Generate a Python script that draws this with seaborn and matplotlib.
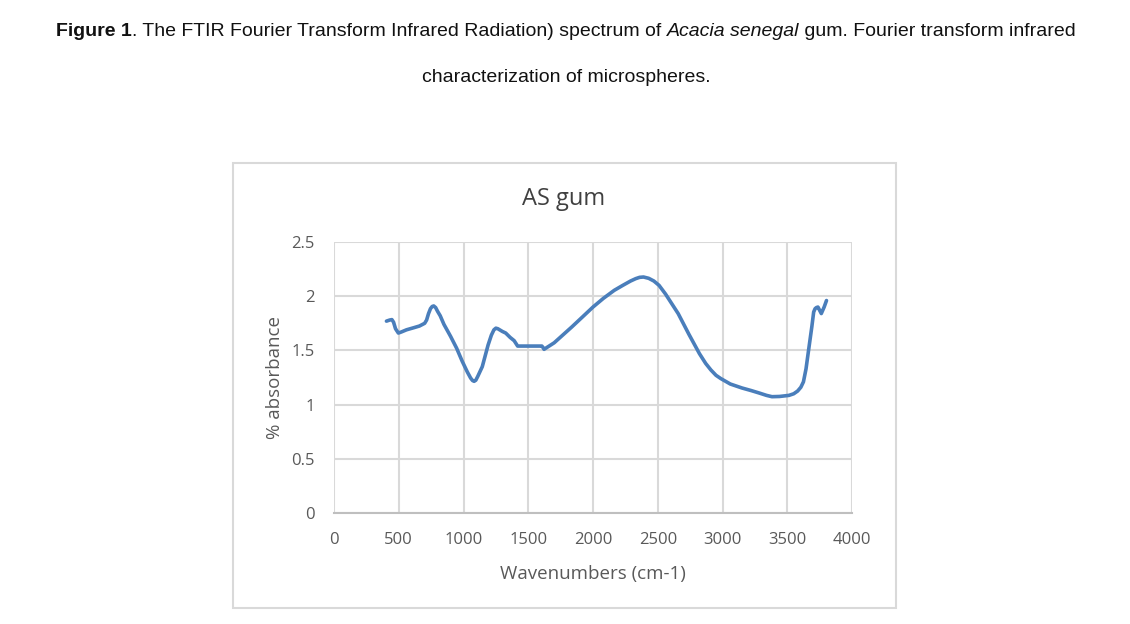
import matplotlib
matplotlib.use("Agg")
import matplotlib.pyplot as plt
import seaborn as sns
import pandas as pd
from matplotlib.patches import Rectangle

# Data
wavenumbers = [405, 430, 447, 460, 475, 497, 520, 560, 618, 660, 700, 715, 730, 745, 758, 770,
               785, 800, 820, 849, 900, 947, 990, 1030, 1055, 1070, 1082, 1095, 1110, 1145, 1190,
               1215, 1235, 1250, 1265, 1300, 1326, 1360, 1391, 1418, 1500, 1605, 1612, 1622, 1700,
               1836, 1920, 2000, 2080, 2164, 2230, 2290, 2330, 2360, 2390, 2430, 2470, 2510, 2560,
               2658, 2740, 2822, 2870, 2910, 2950, 2987, 3060, 3151, 3220, 3283, 3340, 3382, 3440,
               3513, 3550, 3580, 3605, 3625, 3645, 3661, 3690, 3704, 3715, 3725, 3737, 3750, 3763,
               3785, 3803]
absorbance = [1.77, 1.78, 1.784, 1.76, 1.70, 1.66, 1.67, 1.69, 1.71, 1.725, 1.75, 1.78, 1.84, 1.885,
              1.905, 1.91, 1.895, 1.86, 1.82, 1.74, 1.63, 1.52, 1.40, 1.30, 1.245, 1.222, 1.215,
              1.225, 1.26, 1.35, 1.55, 1.64, 1.69, 1.705, 1.70, 1.675, 1.66, 1.62, 1.59, 1.54,
              1.54, 1.54, 1.53, 1.51, 1.57, 1.716, 1.81, 1.90, 1.98, 2.054, 2.10, 2.14, 2.162,
              2.174, 2.177, 2.165, 2.14, 2.10, 2.02, 1.839, 1.65, 1.47, 1.38, 1.32, 1.27, 1.24,
              1.19, 1.153, 1.13, 1.107, 1.085, 1.073, 1.075, 1.085, 1.10, 1.125, 1.16, 1.21, 1.33,
              1.47, 1.72, 1.854, 1.885, 1.895, 1.90, 1.87, 1.84, 1.90, 1.96]

x_ticks = [0, 500, 1000, 1500, 2000, 2500, 3000, 3500, 4000]
y_ticks = [0, 0.5, 1, 1.5, 2, 2.5]
y_tick_labels = ["0", "0.5", "1", "1.5", "2", "2.5"]

sns.set_theme(style="white")
plt.rcParams['font.family'] = ['Open Sans', 'DejaVu Sans']

W, H = 1130, 624
fig = plt.figure(figsize=(W / 100, H / 100), dpi=100)

# chart frame
fig.patches.append(Rectangle((233 / W, 1 - 608 / H), (896 - 233) / W, (608 - 163) / H,
                             transform=fig.transFigure, fill=False, edgecolor="#d9d9d9",
                             linewidth=1.5))

ax = fig.add_axes([334 / W, 1 - 513 / H, (852 - 334) / W, (513 - 242) / H])
df = pd.DataFrame({"Wavenumbers": wavenumbers, "absorbance": absorbance})
sns.lineplot(data=df, x="Wavenumbers", y="absorbance", sort=False, ax=ax,
             color="#4a7ebb", linewidth=2.6, zorder=3)

ax.set_xlim(0, 4000)
ax.set_ylim(0, 2.5)
ax.set_xticks(x_ticks)
ax.set_yticks(y_ticks)
ax.set_yticklabels(y_tick_labels)
ax.grid(True, color="#d9d9d9", linewidth=1.5)
for s in ["top", "right", "left"]:
    ax.spines[s].set_visible(False)
ax.spines["bottom"].set_color("#bfbfbf")
ax.spines["bottom"].set_linewidth(1.5)
ax.tick_params(axis="both", length=0, labelsize=12, labelcolor="#595959")
ax.tick_params(axis="y", pad=14)
ax.tick_params(axis="x", pad=14)
ax.set_xlabel("Wavenumbers (cm-1)", fontsize=13.5, color="#595959", labelpad=12)
ax.set_ylabel("% absorbance", fontsize=13.5, color="#595959", labelpad=5)
fig.text(564 / W, 1 - 199 / H, "AS gum", fontsize=17, color="#404040",
         ha="center", va="center")

# Caption with mixed styles
cap_family = ['Liberation Sans Narrow', 'Liberation Sans', 'DejaVu Sans']
pieces = [("Figure 1", "bold", "normal"),
          (". The FTIR Fourier Transform Infrared Radiation) spectrum of ", "normal", "normal"),
          ("Acacia senegal", "normal", "italic"),
          (" gum. Fourier transform infrared", "normal", "normal")]
fig.canvas.draw()
renderer = fig.canvas.get_renderer()
texts = []
for s, w, st in pieces:
    t = fig.text(0, 1 - 31 / H, s, fontsize=14, fontweight=w, fontstyle=st,
                 family=cap_family, va="center", ha="left", color="#111111")
    texts.append(t)
widths = [t.get_window_extent(renderer).width for t in texts]
total = sum(widths)
x0 = 566 - total / 2
for t, w in zip(texts, widths):
    t.set_x(x0 / W)
    x0 += w
fig.text(566 / W, 1 - 78 / H, "characterization of microspheres.", fontsize=14,
         family=cap_family, va="center", ha="center", color="#111111")

fig.savefig("out.png", dpi=100)
